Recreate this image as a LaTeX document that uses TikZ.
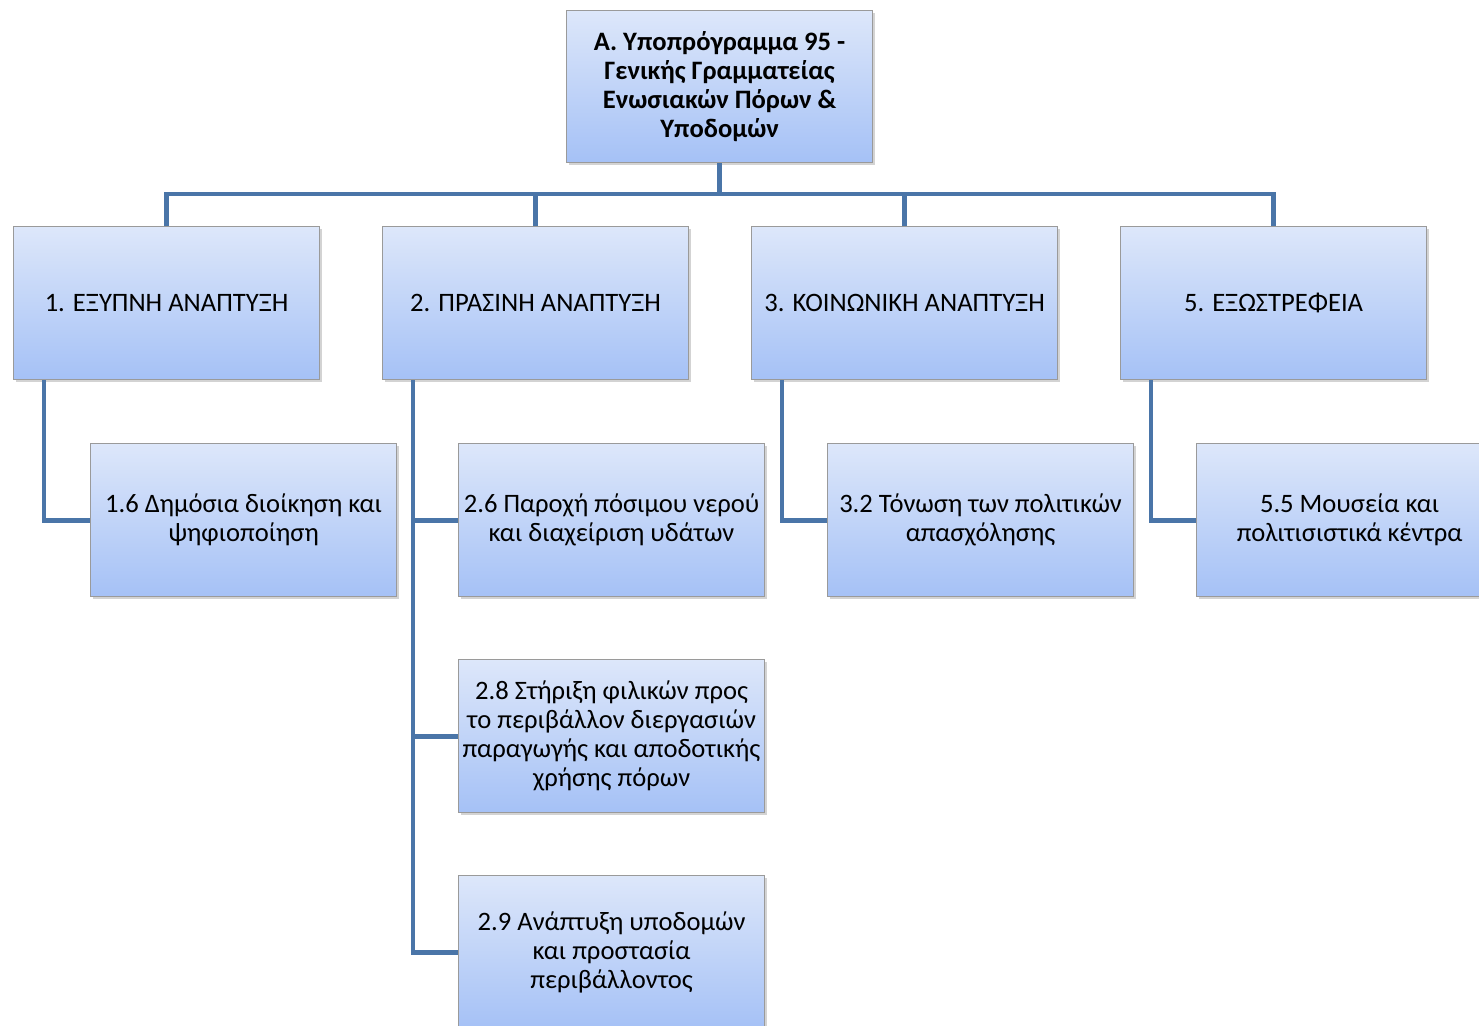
\documentclass[tikz,border=0pt]{standalone}
\usepackage{fontspec}
\setmainfont{Carlito}
\usetikzlibrary{shadows}
\definecolor{boxtop}{HTML}{DDE7FA}
\definecolor{boxbot}{HTML}{A5C1F6}
\definecolor{boxline}{HTML}{9A9A9A}
\definecolor{conn}{HTML}{4A75A8}
\tikzset{
  box/.style={draw=boxline, line width=0.6pt, top color=boxtop, bottom color=boxbot,
    minimum width=153pt, minimum height=76.5pt, inner sep=1pt, align=center,
    anchor=north west, font=\fontsize{13.3}{14.5}\selectfont,
    drop shadow={opacity=0.35, shadow xshift=1.4pt, shadow yshift=-1.4pt}},
  conn/.style={draw=conn, line width=2.4pt, line join=miter}
}
\begin{document}
\begin{tikzpicture}[x=0.5pt, y=-0.5pt]
\useasboundingbox (0,0) rectangle (1479,1025);
\clip (0,0) rectangle (1479,1025);
% top
\node[box, minimum height=76pt, font=\fontsize{13.3}{14.5}\selectfont\bfseries] (top) at (566,10)
  {Α. Υποπρόγραμμα 95 -\\Γενικής Γραμματείας\\Ενωσιακών Πόρων \&\\Υποδομών};
% level 1
\node[box] (b1) at (13,226) {1. ΕΞΥΠΝΗ ΑΝΑΠΤΥΞΗ};
\node[box] (b2) at (382,226) {2. ΠΡΑΣΙΝΗ ΑΝΑΠΤΥΞΗ};
\node[box] (b3) at (751,226) {3. ΚΟΙΝΩΝΙΚΗ ΑΝΑΠΤΥΞΗ};
\node[box] (b4) at (1120,226) {5. ΕΞΩΣΤΡΕΦΕΙΑ};
% level 2
\node[box] (c16) at (90,443) {1.6 Δημόσια διοίκηση και\\ψηφιοποίηση};
\node[box] (c26) at (458,443) {2.6 Παροχή πόσιμου νερού\\και διαχείριση υδάτων};
\node[box] (c28) at (458,659) {2.8 Στήριξη φιλικών προς\\το περιβάλλον διεργασιών\\παραγωγής και αποδοτικής\\χρήσης πόρων};
\node[box] (c29) at (458,875) {2.9 Ανάπτυξη υποδομών\\και προστασία\\περιβάλλοντος};
\node[box] (c32) at (827,443) {3.2 Τόνωση των πολιτικών\\απασχόλησης};
\node[box] (c55) at (1196,443) {5.5 Μουσεία και\\πολιτισιστικά κέντρα};
% connectors
\coordinate (bus) at (0,194);
\draw[conn] (top.south) -- (top.south |- bus);
\draw[conn] (b1.north) -- (b1.north |- bus) -- (b4.north |- bus) -- (b4.north);
\draw[conn] (b2.north) -- (b2.north |- bus);
\draw[conn] (b3.north) -- (b3.north |- bus);
\draw[conn] ([xshift=15.5pt]b1.south west) |- (c16.west);
\draw[conn] ([xshift=15.5pt]b2.south west) |- (c29.west);
\draw[conn] ([xshift=15.5pt]b2.south west |- c26.west) -- (c26.west);
\draw[conn] ([xshift=15.5pt]b2.south west |- c28.west) -- (c28.west);
\draw[conn] ([xshift=15.5pt]b3.south west) |- (c32.west);
\draw[conn] ([xshift=15.5pt]b4.south west) |- (c55.west);
\end{tikzpicture}
\end{document}
